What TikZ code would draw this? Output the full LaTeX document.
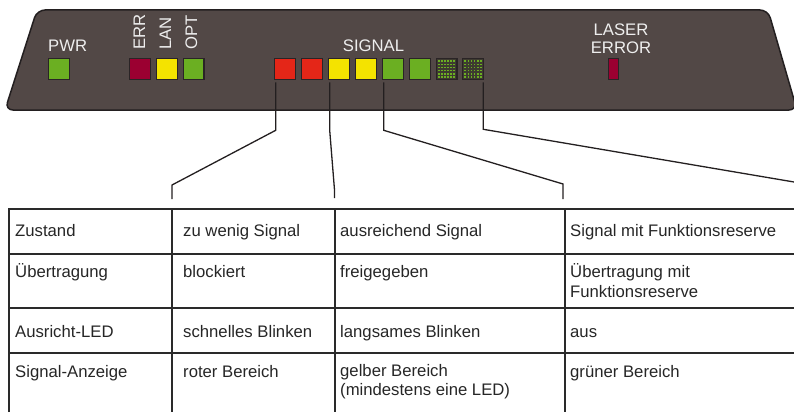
\documentclass[tikz,border=0pt]{standalone}
\usepackage{fontspec}
\setmainfont{Liberation Sans}
\usetikzlibrary{calc}
\definecolor{panel}{HTML}{524846}
\definecolor{panelborder}{HTML}{231F20}
\definecolor{paneltext}{HTML}{EEEEEE}
\definecolor{ledgreen}{HTML}{6BAF22}
\definecolor{ledred}{HTML}{E42618}
\definecolor{ledyellow}{HTML}{F4E300}
\definecolor{leddarkred}{HTML}{9B0031}
\definecolor{ledoff}{HTML}{3E3B30}
\definecolor{ledborder}{HTML}{2A2426}
\definecolor{tabletext}{HTML}{262626}
\definecolor{tablec}{HTML}{2A2A2A}
\definecolor{connc}{HTML}{231F20}
\begin{document}
\begin{tikzpicture}[x=1pt,y=-1pt,
  every node/.style={font=\fontsize{16.7}{19.5}\selectfont},
  led/.style={draw=ledborder, line width=1.4pt, minimum width=20.6pt, minimum height=20.6pt, inner sep=0pt, outer sep=0pt},
  ptext/.style={text=paneltext, inner sep=0pt},
  ttext/.style={text=tabletext, inner sep=0pt, anchor=base west, align=left},
  conn/.style={draw=connc, line width=1.3pt},
  gridline/.style={draw=tablec, line width=1.6pt}]
\useasboundingbox (0,0) rectangle (794,412);

% panel
\draw[fill=panel, draw=panelborder, line width=1.5pt, rounded corners=8pt]
  (37,10) -- (768,10) -- (797,110) -- (5,110) -- cycle;

% LEDs
\node[led, fill=ledgreen] (pwr) at (59,69) {};
\node[led, fill=leddarkred] (err) at (140,69) {};
\node[led, fill=ledyellow] (lan) at (167,69) {};
\node[led, fill=ledgreen] (opt) at (193.5,69) {};
\node[led, fill=ledred] (s1) at (285,69) {};
\node[led, fill=ledred] (s2) at (312,69) {};
\node[led, fill=ledyellow] (s3) at (339,69) {};
\node[led, fill=ledyellow] (s4) at (366,69) {};
\node[led, fill=ledgreen] (s5) at (393,69) {};
\node[led, fill=ledgreen] (s6) at (420,69) {};
\node[led, fill=ledoff] (s7) at (446.5,69) {};
\node[led, fill=ledoff] (s8) at (473,69) {};
\node[led, fill=leddarkred, minimum width=9.6pt] (laser) at (613.5,69) {};

\foreach \n in {s7,s8}{
  \begin{scope}[shift={(\n.center)}]
    \foreach \i in {-2.5,-1.5,...,2.5}
      \foreach \j in {-2.5,-1.5,...,2.5}
        \fill[ledgreen] (\i*3.1-0.85,\j*3.1-0.85) rectangle ++(1.7,1.7);
  \end{scope}
}

% panel labels
\node[ptext, anchor=base west] (lpwr) at (48,52) {PWR};
\node[ptext, anchor=base west, rotate=90] (lerr) at (145,50) {ERR};
\node[ptext, anchor=base west, rotate=90] (llan) at (171,50) {LAN};
\node[ptext, anchor=base west, rotate=90] (lopt) at (197,50) {OPT};
\node[ptext, anchor=base] (lsig) at (373.5,52) {SIGNAL};
\node[ptext, anchor=base] (llas1) at (621,36) {LASER};
\node[ptext, anchor=base] (llas2) at (621,53) {ERROR};

% connectors
\coordinate (k1) at (172,185);
\coordinate (c1) at (172,199);
\coordinate (k2) at (334.5,190);
\coordinate (c2) at (334.5,198);
\coordinate (k3) at (563,184);
\coordinate (c3) at (563,199);
\coordinate (c4) at (794,182);
\draw[conn] ($(s1.south west)+(1,3)$) -- ($(s1.south west)+(1,51)$) -- (k1) -- (c1);
\draw[conn] ($(s3.south west)+(1,3)$) -- ($(s3.south west)+(1,51)$) -- (k2) -- (c2);
\draw[conn] ($(s5.south west)+(1,3)$) -- ($(s5.south west)+(1,51)$) -- (k3) -- (c3);
\draw[conn] ($(s8.south east)+(0,3)$) -- ($(s8.south east)+(0,50)$) -- (c4);

% table grid
\draw[gridline] (9,412) -- (9,209) -- (794,209);
\foreach \y in {254,308,353} \draw[gridline] (9,\y) -- (794,\y);
\foreach \x in {172,335,565} \draw[gridline] (\x,209) -- (\x,412);

% table text
\node[ttext] (t11) at (15,236) {Zustand};
\node[ttext] (t12) at (183,236) {zu wenig Signal};
\node[ttext] (t13) at (340,236) {ausreichend Signal};
\node[ttext] (t14) at (570,236) {Signal mit Funktionsreserve};
\node[ttext] (t21) at (15,277) {Übertragung};
\node[ttext] (t22) at (183,277) {blockiert};
\node[ttext] (t23) at (340,277) {freigegeben};
\node[ttext] (t24) at (570,297) {Übertragung mit\\Funktionsreserve};
\node[ttext] (t31) at (15,337) {Ausricht-LED};
\node[ttext] (t32) at (183,337) {schnelles Blinken};
\node[ttext] (t33) at (340,337) {langsames Blinken};
\node[ttext] (t34) at (570,337) {aus};
\node[ttext] (t41) at (15,377) {Signal-Anzeige};
\node[ttext] (t42) at (183,377) {roter Bereich};
\node[ttext] (t43) at (340,395.5) {gelber Bereich\\(mindestens eine LED)};
\node[ttext] (t44) at (570,377) {grüner Bereich};
\end{tikzpicture}
\end{document}
